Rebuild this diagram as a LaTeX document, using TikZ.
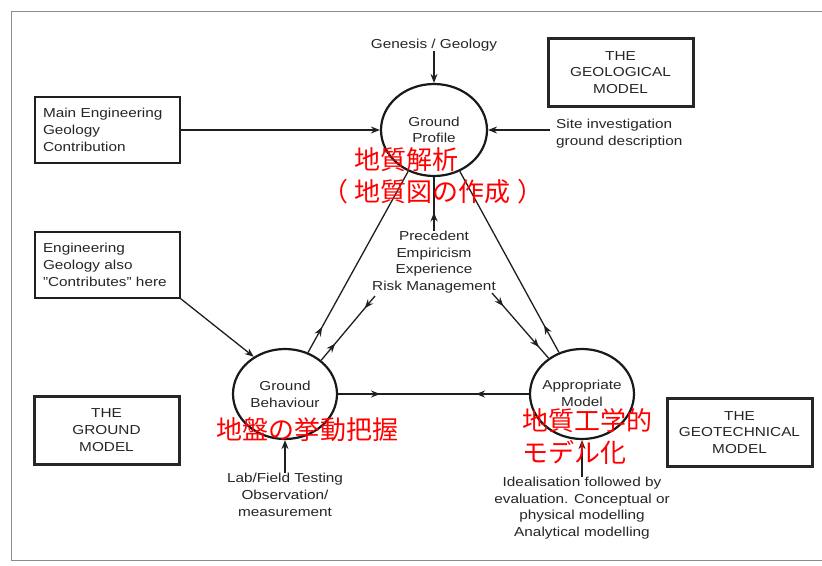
\documentclass[tikz,border=0pt]{standalone}
\usepackage{fontspec}
\setmainfont{Liberation Sans}[FakeStretch=1.18]
\newfontfamily\jpfont{Noto Sans CJK JP}
\usetikzlibrary{shapes.geometric,arrows.meta,decorations.markings}

\tikzset{
  frame/.style={draw=black!45, line width=1pt},
  ink/.style={draw=black!88, line width=1.3pt},
  tip/.style={-{Stealth[length=9pt,width=7pt]}},
  fwd/.style={postaction={decorate, decoration={markings,
      mark=at position #1 with {\arrow{Stealth[length=9pt,width=7pt]}}}}},
  bwd/.style={postaction={decorate, decoration={markings,
      mark=at position #1 with {\arrow{Stealth[length=9pt,width=7pt,reversed]}}}}},
  ell/.style={ellipse, draw=black!90, line width=2.2pt,
      minimum width=104pt, minimum height=90pt, inner sep=0pt},
  lbl/.style={font=\fontsize{13}{16.7}\selectfont, text=black!85,
      align=center, inner sep=0pt},
  thinbox/.style={lbl, draw=black!88, line width=1.4pt, minimum width=145pt,
      minimum height=66pt, text width=129pt, align=left},
  thickbox/.style={lbl, draw=black!85, line width=3pt, minimum width=145pt,
      minimum height=68pt},
  jp/.style={font=\jpfont\fontsize{26}{32}\selectfont, text=red, inner sep=0pt},
}

\begin{document}
\begin{tikzpicture}[x=1pt,y=-1pt]
\useasboundingbox (0,0) rectangle (822,565);
\fill[white] (0,0) rectangle (822,565);
\draw[frame] (822,11) -| (11,560) -- (822,560);

% the three stages
\node[ell, minimum width=106pt, minimum height=92pt] (gp) at (434,130) {};
\node[ell] (gb) at (285,394) {};
\node[ell] (am) at (582,394) {};
\node[lbl] at (gp) {Ground\\Profile};
\node[lbl] at (gb) {Ground\\Behaviour};
\node[lbl] at ([yshift=1pt]am.center) {Appropriate\\Model};

% boxes
\node[thinbox] (me) at (107.5,130) {Main Engineering\\Geology\\Contribution};
\node[thinbox] (ea) at (107.5,265) {Engineering\\Geology also\\"Contributes" here};
\node[thickbox] (geo) at (620.5,72.5) {THE\\GEOLOGICAL\\MODEL};
\node[thickbox] (grm) at (106.5,430) {THE\\GROUND\\MODEL};
\node[thickbox] (gtm) at (739.5,432.5) {THE\\GEOTECHNICAL\\MODEL};

% free labels
\node[lbl] (gen) at (434,45) {Genesis / Geology};
\node[lbl, align=left, anchor=west, inner xsep=6pt] (site) at (550,133.5)
  {Site investigation\\ground description};
\node[lbl] (prec) at (434,262) {Precedent\\Empiricism\\Experience\\Risk Management};
\node[lbl] (lab) at (285,495) {Lab/Field Testing\\Observation/\\measurement};
\node[lbl] (ideal) at (582,508)
  {Idealisation followed by\\evaluation. Conceptual or\\physical modelling\\Analytical modelling};
\coordinate (rl) at (375,296);
\coordinate (rr) at (492,293);

% inputs
\draw[ink,tip] (gen) -- (gp.north);
\draw[ink,tip] (me.east) -- (gp.west);
\draw[ink,tip] (site.west |- gp.east) -- (gp.east);
\draw[ink,tip] (ea.south east) -- (gb.130);
\draw[ink,tip] (lab) -- (gb.south);
\draw[ink,tip] (ideal) -- (am.south);

% triangle
\draw[ink,fwd=0.14] (gb.61) -- (gp.238);
\draw[ink,fwd=0.15] (am.119) -- (gp.302);
\draw[ink,fwd=0.22,bwd=0.77] (gb.east) -- (am.west);
\draw[ink,fwd=0.34] (prec.north) -- (gp.south);
\draw[ink,fwd=0.19,bwd=0.85] (rl) -- (gb.43);
\draw[ink,fwd=0.2,fwd=0.83] (rr) -- (am.133);

% annotations
\node[jp] (t1) at (406,160) {地質解析};
\node[jp] (t2) at (433,192) {（\hspace{7pt}地質図の作成\hspace{7pt}）};
\node[jp] (t3) at (307.5,430) {地盤の挙動把握};
\node[jp, align=left, anchor=west] (t4) at (522,437) {地質工学的\\モデル化};
\end{tikzpicture}
\end{document}
